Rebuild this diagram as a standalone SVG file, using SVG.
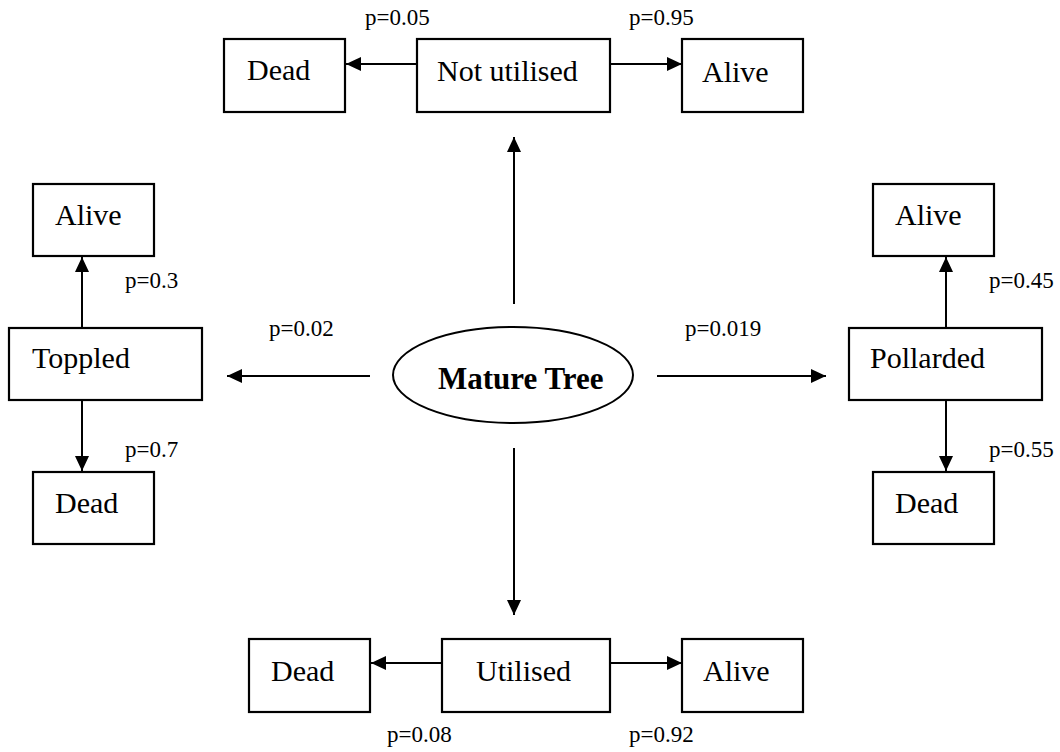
<svg xmlns="http://www.w3.org/2000/svg" width="1060" height="752" viewBox="0 0 1060 752">
<style>
.box{fill:#fff;stroke:#000;stroke-width:2.2}
.lbl{font-family:"Liberation Serif","Times New Roman",serif;font-size:30px;fill:#000}
.p{font-family:"Liberation Serif","Times New Roman",serif;font-size:23px;fill:#000}
.main{font-family:"Liberation Serif","Times New Roman",serif;font-size:31px;font-weight:bold;fill:#000}
.c{stroke:#000;stroke-width:2;fill:none;marker-end:url(#ah)}
</style>
<defs>
<marker id="ah" markerUnits="userSpaceOnUse" markerWidth="16" markerHeight="16" refX="15" refY="7" orient="auto">
<path d="M0,0 L15,7 L0,14 z" fill="#000"/>
</marker>
</defs>
<rect width="1060" height="752" fill="#fff"/>
<g id="connectors">
<line class="c" x1="514" y1="304" x2="514" y2="137"/>
<line class="c" x1="514" y1="448" x2="514" y2="615"/>
<line class="c" x1="370" y1="376" x2="227" y2="376"/>
<line class="c" x1="657" y1="376" x2="826" y2="376"/>
<line class="c" x1="417" y1="64" x2="346" y2="64"/>
<line class="c" x1="610" y1="64" x2="682" y2="64"/>
<line class="c" x1="442" y1="663" x2="371" y2="663"/>
<line class="c" x1="610" y1="663" x2="682" y2="663"/>
<line class="c" x1="82" y1="328" x2="82" y2="257"/>
<line class="c" x1="82" y1="400" x2="82" y2="471"/>
<line class="c" x1="946" y1="328" x2="946" y2="257"/>
<line class="c" x1="946" y1="400" x2="946" y2="471"/>
</g>
<g id="labels">
<text class="p" x="365" y="25">p=0.05</text>
<text class="p" x="629" y="25">p=0.95</text>
<text class="p" x="125" y="288">p=0.3</text>
<text class="p" x="125" y="457">p=0.7</text>
<text class="p" x="269" y="336">p=0.02</text>
<text class="p" x="685" y="336">p=0.019</text>
<text class="p" x="989" y="288">p=0.45</text>
<text class="p" x="989" y="457">p=0.55</text>
<text class="p" x="387" y="742">p=0.08</text>
<text class="p" x="629" y="742">p=0.92</text>
</g>
<g id="mature-tree">
<ellipse cx="513" cy="375" rx="120" ry="48" fill="#fff" stroke="#000" stroke-width="2"/>
<text class="main" x="438" y="389">Mature Tree</text>
</g>
<g id="top-dead"><rect class="box" x="224" y="39" width="121" height="73"/><text class="lbl" x="247" y="80">Dead</text></g>
<g id="not-utilised"><rect class="box" x="417" y="39" width="193" height="73"/><text class="lbl" x="437" y="81">Not utilised</text></g>
<g id="top-alive"><rect class="box" x="682" y="39" width="121" height="73"/><text class="lbl" x="702" y="82">Alive</text></g>
<g id="left-alive"><rect class="box" x="33" y="184" width="121" height="72"/><text class="lbl" x="55" y="225">Alive</text></g>
<g id="toppled"><rect class="box" x="9" y="328" width="193" height="72"/><text class="lbl" x="32" y="368">Toppled</text></g>
<g id="left-dead"><rect class="box" x="33" y="472" width="121" height="72"/><text class="lbl" x="55" y="513">Dead</text></g>
<g id="right-alive"><rect class="box" x="873" y="184" width="121" height="72"/><text class="lbl" x="895" y="225">Alive</text></g>
<g id="pollarded"><rect class="box" x="849" y="328" width="193" height="72"/><text class="lbl" x="870" y="368">Pollarded</text></g>
<g id="right-dead"><rect class="box" x="873" y="472" width="121" height="72"/><text class="lbl" x="895" y="513">Dead</text></g>
<g id="bottom-dead"><rect class="box" x="249" y="639" width="121" height="73"/><text class="lbl" x="271" y="681">Dead</text></g>
<g id="utilised"><rect class="box" x="442" y="639" width="168" height="73"/><text class="lbl" x="476" y="681">Utilised</text></g>
<g id="bottom-alive"><rect class="box" x="682" y="639" width="121" height="73"/><text class="lbl" x="703" y="681">Alive</text></g>
</svg>
